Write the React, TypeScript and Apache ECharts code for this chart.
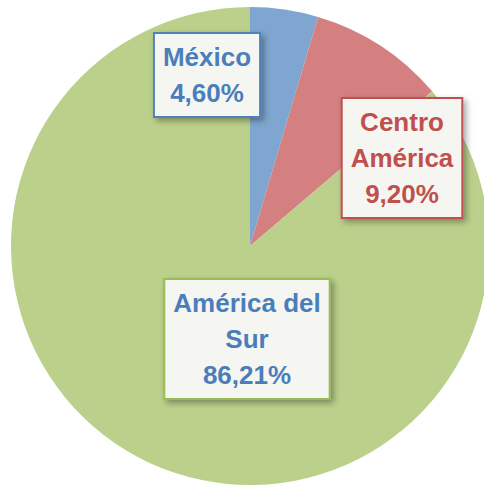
import React, { useEffect, useRef } from "react";
import * as echarts from "echarts";

const categories = ["México", "Centro\nAmérica", "América del\nSur"];
const values = [4.6, 9.2, 86.21];
const sliceColors = ["#7FA6D0", "#D48080", "#BBD08B"];
const textColors = ["#4A7EBB", "#C0504D", "#4A7EBB"];
const borderColors = ["#4F81BD", "#C0504D", "#9BBB59"];
const labelCenters = [
  [207, 75],
  [402, 158],
  [247, 339],
];

export default function App() {
  const ref = useRef<HTMLDivElement>(null);
  useEffect(() => {
    if (!ref.current) return;
    const chart = echarts.init(ref.current, undefined, { renderer: "svg" });
    chart.setOption({
      animation: false,
      backgroundColor: "#ffffff",
      series: [
        {
          type: "pie",
          center: [250, 246],
          radius: 239,
          startAngle: 90,
          clockwise: true,
          avoidLabelOverlap: false,
          labelLine: { show: false },
          data: categories.map((name, i) => ({
            name,
            value: values[i],
            itemStyle: { color: sliceColors[i] },
            label: {
              show: true,
              position: "inside",
              formatter: (p: any) =>
                `${p.name}\n${Number(p.value).toFixed(2).replace(".", ",")}%`,
              color: textColors[i],
              fontFamily: "'Liberation Sans', Arial, sans-serif",
              fontWeight: "bold",
              fontSize: 26,
              lineHeight: 36,
              align: "center",
              backgroundColor: "#F5F6F2",
              borderColor: borderColors[i],
              borderWidth: 2,
              padding: [6, 8, 4, 8],
              shadowColor: "rgba(0,0,0,0.35)",
              shadowBlur: 6,
              shadowOffsetX: 3,
              shadowOffsetY: 3,
            },
          })),
          labelLayout: (params: any) => {
            const c = labelCenters[params.dataIndex];
            return {
              x: c[0],
              y: c[1],
              align: "center",
              verticalAlign: "middle",
            };
          },
        },
      ],
    });
    return () => chart.dispose();
  }, []);
  return (
    <div
      ref={ref}
      style={{ position: "absolute", left: 0, top: 0, width: 484, height: 485 }}
    />
  );
}
